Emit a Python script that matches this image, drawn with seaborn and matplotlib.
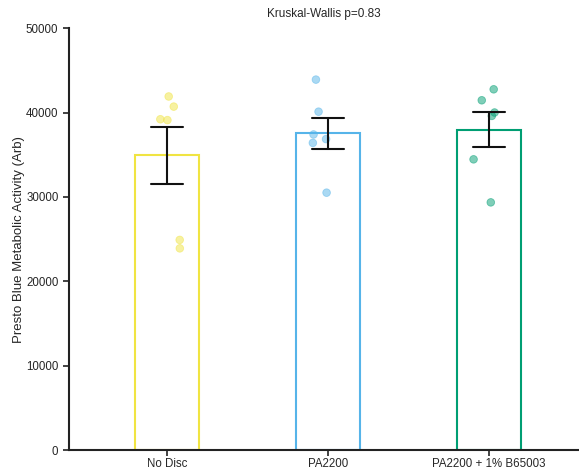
import numpy as np
import pandas as pd
import matplotlib.pyplot as plt
import seaborn as sns

# values
groups = ["No Disc", "PA2200", "PA2200 + 1% B65003"]
no_disc = [41900, 40700, 39200, 39100, 24900, 23900]
pa2200 = [43900, 40100, 37400, 36850, 36400, 30500]
pa2200_b65003 = [42750, 41450, 40000, 39600, 34450, 29350]
colors = ["#F0E442", "#56B4E9", "#009E73"]

df = pd.DataFrame({
    "group": np.repeat(groups, 6),
    "activity": no_disc + pa2200 + pa2200_b65003,
})

sns.set_style("ticks")
plt.rcParams["font.family"] = ["Liberation Sans", "DejaVu Sans"]

fig = plt.figure(figsize=(5.79, 4.69), dpi=100)
ax = fig.add_axes([0.119, 0.0405, 0.881, 0.8995])

sns.barplot(
    data=df, x="group", y="activity", hue="group", palette=colors,
    order=groups, hue_order=groups, fill=False, width=0.4,
    errorbar="se", capsize=0.2, linewidth=1.5,
    err_kws={"color": "#111111", "linewidth": 1.5}, legend=False, ax=ax,
)

np.random.seed(3)
sns.stripplot(
    data=df, x="group", y="activity", hue="group", palette=colors,
    order=groups, hue_order=groups, jitter=0.1, size=5.5, alpha=0.5,
    linewidth=0.6, edgecolor="face", legend=False, ax=ax, zorder=1,
)

ax.set_xlim(-0.61, 2.56)
ax.set_ylim(0, 50000)
ax.set_yticks([0, 10000, 20000, 30000, 40000, 50000])
ax.set_xlabel("")
ax.set_ylabel("Presto Blue Metabolic Activity (Arb)", fontsize=9.5, labelpad=1)
ax.set_title("Kruskal-Wallis p=0.83", fontsize=8.5, pad=8)
ax.tick_params(labelsize=8.3, width=1.2, length=4, color="#222222")
ax.tick_params(axis="x", pad=1.5)
for side in ["left", "bottom"]:
    ax.spines[side].set_linewidth(1.5)
    ax.spines[side].set_color("#222222")
sns.despine(ax=ax)

fig.savefig("out.png", dpi=100)
